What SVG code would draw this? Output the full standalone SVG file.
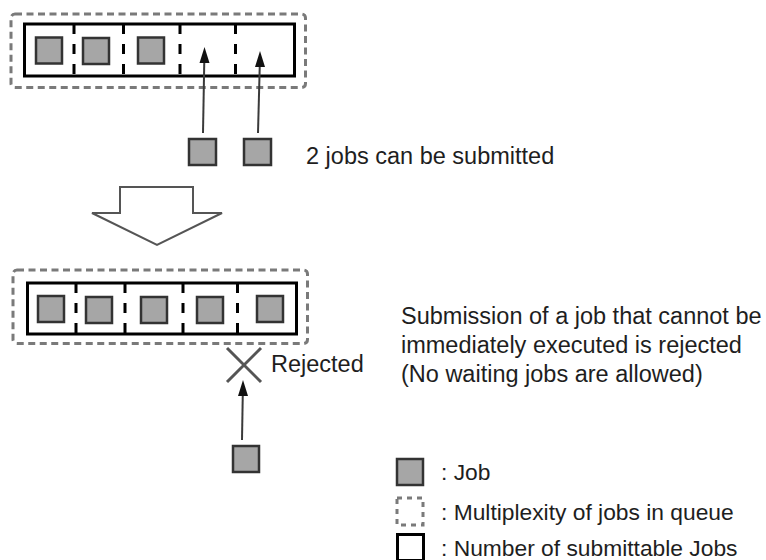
<svg xmlns="http://www.w3.org/2000/svg" width="766" height="560" viewBox="0 0 766 560">
<defs>
<style>
.txt{font-family:"Liberation Sans",Arial,sans-serif;font-size:23.5px;fill:#1e1e1e}
.leg{font-family:"Liberation Sans",Arial,sans-serif;font-size:22.8px;fill:#1e1e1e}
.job{fill:#a6a6a6;stroke:#333;stroke-width:2.5}
.multi{fill:none;stroke:#7a7a7a;stroke-width:3;stroke-dasharray:7 4.5}
.limit{fill:#fff;stroke:#000;stroke-width:3}
.div{stroke:#000;stroke-width:3;stroke-dasharray:10 10}
.arr{stroke:#3a3a3a;stroke-width:2;fill:none}
.head{fill:#111;stroke:none}
</style>
</defs>

<g id="queue-before">
<rect class="multi" x="11" y="14" width="294.5" height="73.5" rx="4"/>
<rect class="limit" x="24.5" y="24" width="270" height="52"/>
<line class="div" x1="74" y1="24" x2="74" y2="76"/>
<line class="div" x1="123.5" y1="24" x2="123.5" y2="76"/>
<line class="div" x1="180" y1="24" x2="180" y2="76"/>
<line class="div" x1="235.5" y1="24" x2="235.5" y2="76"/>
<rect class="job" x="36" y="37.5" width="26" height="26"/>
<rect class="job" x="83" y="38" width="26" height="26"/>
<rect class="job" x="138" y="37.5" width="26" height="26"/>
</g>

<g id="new-jobs">
<rect class="job" x="189" y="139" width="27" height="26"/>
<rect class="job" x="244" y="139" width="27" height="26"/>
</g>

<g id="label-submitted">
<text class="txt" x="306" y="164">2 jobs can be submitted</text>
</g>

<g id="transition-arrow">
<polygon points="120,187 193,187 193,213 222,213 157,245 92,213 120,213 120,187" fill="#fff" stroke="#555" stroke-width="2" stroke-linejoin="miter"/>
</g>

<g id="queue-after">
<rect class="multi" x="13" y="270" width="294.5" height="73.5" rx="4"/>
<rect class="limit" x="27.5" y="283" width="269" height="51"/>
<line class="div" x1="76" y1="283" x2="76" y2="334"/>
<line class="div" x1="125" y1="283" x2="125" y2="334"/>
<line class="div" x1="183" y1="283" x2="183" y2="334"/>
<line class="div" x1="237.5" y1="283" x2="237.5" y2="334"/>
<rect class="job" x="38" y="296" width="26" height="26"/>
<rect class="job" x="86" y="297" width="26" height="26"/>
<rect class="job" x="141" y="297" width="26" height="26"/>
<rect class="job" x="197" y="297" width="26" height="26"/>
<rect class="job" x="257" y="296" width="26" height="26"/>
</g>

<g id="rejected-mark">
<line x1="227" y1="348" x2="261" y2="382" stroke="#555" stroke-width="3"/>
<line x1="261" y1="348" x2="227" y2="382" stroke="#555" stroke-width="3"/>
<text class="txt" x="271" y="372">Rejected</text>
</g>

<g id="rejected-job">
<rect class="job" x="233" y="446" width="26" height="26"/>
</g>

<g id="explanation">
<text class="txt" x="401" y="324">Submission of a job that cannot be</text>
<text class="txt" x="401" y="353">immediately executed is rejected</text>
<text class="txt" x="401" y="382">(No waiting jobs are allowed)</text>
</g>

<g id="connectors">
<line class="arr" x1="203" y1="133" x2="204.3" y2="60"/>
<polygon class="head" points="204.5,47 209.5,63 199.5,63"/>
<line class="arr" x1="258" y1="133" x2="259.8" y2="64"/>
<polygon class="head" points="260,51 265,67 255,67"/>
<line class="arr" x1="242" y1="440" x2="242.8" y2="393"/>
<polygon class="head" points="243,380 248,396 238,396"/>
</g>

<g id="legend">
<rect class="job" x="397" y="459" width="26" height="26"/>
<rect x="397" y="498" width="26" height="27" fill="none" stroke="#7a7a7a" stroke-width="3" stroke-dasharray="5 5"/>
<rect x="397.5" y="534.5" width="26" height="26" fill="#fff" stroke="#000" stroke-width="3"/>
<text class="leg" x="441" y="480">: Job</text>
<text class="leg" x="441" y="520">: Multiplexity of jobs in queue</text>
<text class="leg" x="441" y="556">: Number of submittable Jobs</text>
</g>
</svg>
